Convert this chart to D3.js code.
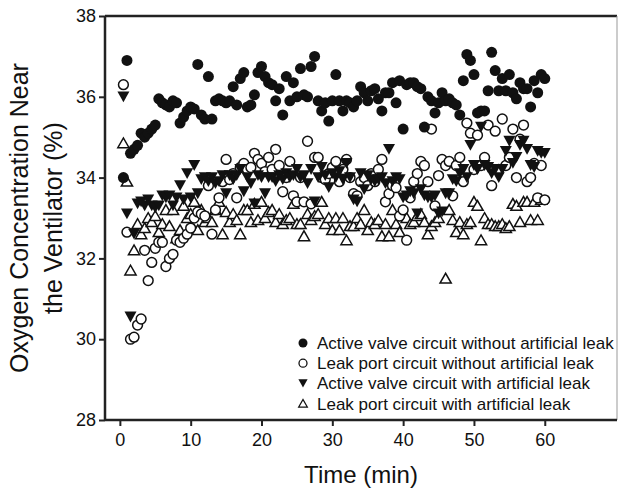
<!DOCTYPE html>
<html><head><meta charset="utf-8">
<script src="https://cdn.jsdelivr.net/npm/d3@7"></script>
<style>body{margin:0;background:#fff}svg{display:block}text{font-family:"Liberation Sans",Arial,sans-serif;fill:#111}</style>
</head><body>
<script>
const xTicks = [0,10,20,30,40,50,60];
const yTicks = [28,30,32,34,36,38];
const legendLabels = ["Active valve circuit without artificial leak","Leak port circuit without artificial leak","Active valve circuit with artificial leak","Leak port circuit with artificial leak"];
const activeNoLeak = [[0.5,34.0],[1,36.9],[1.5,34.6],[2,34.7],[2.5,34.8],[3,35.1],[3.5,35.0],[4,35.1],[4.5,35.2],[5,35.3],[5.5,35.95],[6,35.85],[6.5,35.8],[7,35.75],[7.5,35.9],[8,35.85],[8.5,35.35],[9,35.5],[9.5,35.65],[10,35.75],[10.5,35.7],[11,36.8],[11.5,35.55],[12,35.45],[12.5,36.5],[13,35.45],[13.5,35.9],[14,35.95],[14.5,35.9],[15,35.85],[15.5,35.9],[16,36.25],[16.5,35.8],[17,36.45],[17.5,36.6],[18,35.75],[18.5,35.8],[19,36.05],[19.5,36.6],[20,36.75],[20.5,36.5],[21,36.35],[21.5,36.3],[22,35.9],[22.5,36.2],[23,35.55],[23.5,36.5],[24,35.9],[24.5,36.35],[25,36.0],[25.5,36.7],[26,36.05],[26.5,36.0],[27,36.75],[27.5,37.0],[28,35.9],[28.5,35.65],[29,35.85],[29.5,35.4],[30,35.9],[30.5,36.55],[31,35.9],[31.5,35.65],[32,35.9],[32.5,35.85],[33,35.75],[33.5,35.9],[34,36.25],[34.5,36.1],[35,35.9],[35.5,36.15],[36,36.2],[36.5,35.95],[37,35.65],[37.5,36.1],[38,36.1],[38.5,36.35],[39,35.85],[39.5,36.4],[40,35.2],[40.5,36.3],[41,36.35],[41.5,36.35],[42,36.25],[42.5,36.2],[43,35.25],[43.5,36.0],[44,35.9],[44.5,35.6],[45,35.85],[45.5,36.1],[46,35.9],[46.5,35.95],[47,35.85],[47.5,35.8],[48,35.55],[48.5,36.4],[49,37.05],[49.5,36.9],[50,36.55],[50.5,35.6],[51,35.65],[51.5,35.65],[52,36.15],[52.5,37.1],[53,36.65],[53.5,36.15],[54,36.45],[54.5,36.15],[55,36.55],[55.5,36.1],[56,35.95],[56.5,36.35],[57,36.2],[57.5,36.2],[58,35.75],[58.5,36.4],[59,36.1],[59.5,36.55],[60,36.45]];
const leakNoLeak = [[0.5,36.3],[1,32.65],[1.5,30.0],[2,30.05],[2.5,30.35],[3,30.5],[3.5,32.2],[4,31.45],[4.5,31.9],[5,32.25],[5.5,32.4],[6,32.4],[6.5,31.8],[7,32.0],[7.5,32.1],[8,32.45],[8.5,32.4],[9,32.5],[9.5,32.6],[10,32.75],[10.5,33.0],[11,33.15],[11.5,33.1],[12,33.05],[12.5,33.8],[13,32.6],[13.5,33.2],[14,33.5],[14.5,33.9],[15,34.45],[15.5,33.95],[16,34.1],[16.5,33.5],[17,34.25],[17.5,34.35],[18,34.2],[18.5,34.25],[19,34.6],[19.5,34.45],[20,34.35],[20.5,34.15],[21,34.5],[21.5,34.2],[22,34.7],[22.5,34.3],[23,33.65],[23.5,34.0],[24,34.4],[24.5,33.55],[25,33.4],[25.5,34.0],[26,33.4],[26.5,34.9],[27,33.35],[27.5,34.5],[28,34.5],[28.5,34.0],[29,33.95],[29.5,34.1],[30,34.25],[30.5,34.4],[31,33.9],[31.5,34.2],[32,34.45],[32.5,34.0],[33,33.6],[33.5,33.55],[34,33.9],[34.5,34.0],[35,33.8],[35.5,34.1],[36,33.9],[36.5,34.2],[37,34.45],[37.5,33.4],[38,33.6],[38.5,33.8],[39,33.75],[39.5,33.05],[40,33.2],[40.5,32.45],[41,33.5],[41.5,33.9],[42,34.1],[42.5,34.4],[43,34.3],[43.5,33.9],[44,35.2],[44.5,33.3],[45,34.05],[45.5,34.45],[46,34.3],[46.5,34.4],[47,33.55],[47.5,34.3],[48,34.5],[48.5,33.9],[49,35.35],[49.5,35.1],[50,34.2],[50.5,35.05],[51,34.3],[51.5,34.5],[52,35.3],[52.5,33.8],[53,35.15],[53.5,34.2],[54,35.45],[54.5,34.3],[55,34.5],[55.5,35.2],[56,34.0],[56.5,34.95],[57,35.3],[57.5,33.9],[58,34.0],[58.5,34.35],[59,33.5],[59.5,34.3],[60,33.45]];
const activeLeak = [[0.5,36.0],[1,33.1],[1.5,30.55],[2,32.6],[2.5,33.35],[3,33.4],[3.5,33.3],[4,33.45],[4.5,33.3],[5,33.25],[5.5,33.3],[6,33.55],[6.5,33.5],[7,33.55],[7.5,33.3],[8,33.5],[8.5,33.8],[9,33.45],[9.5,34.1],[10,33.5],[10.5,34.3],[11,33.6],[11.5,33.95],[12,34.0],[12.5,33.9],[13,34.0],[13.5,33.85],[14,33.9],[14.5,34.05],[15,33.6],[15.5,34.05],[16,33.95],[16.5,34.05],[17,34.2],[17.5,33.65],[18,34.0],[18.5,33.85],[19,33.35],[19.5,34.05],[20,34.0],[20.5,33.6],[21,34.0],[21.5,34.0],[22,33.9],[22.5,34.05],[23,33.95],[23.5,34.1],[24,34.0],[24.5,34.05],[25,34.2],[25.5,34.0],[26,34.05],[26.5,33.85],[27,34.2],[27.5,33.4],[28,34.0],[28.5,34.25],[29,34.05],[29.5,33.75],[30,34.1],[30.5,34.0],[31,34.15],[31.5,33.95],[32,34.35],[32.5,34.0],[33,33.45],[33.5,33.4],[34,34.1],[34.5,33.7],[35,34.05],[35.5,33.95],[36,33.9],[36.5,33.95],[37,34.0],[37.5,33.85],[38,34.7],[38.5,33.9],[39,34.0],[39.5,33.95],[40,33.5],[40.5,33.55],[41,33.65],[41.5,33.6],[42,33.1],[42.5,33.7],[43,33.55],[43.5,33.5],[44,33.5],[44.5,33.55],[45,33.1],[45.5,33.15],[46,33.6],[46.5,33.6],[47,33.95],[47.5,33.9],[48,34.1],[48.5,34.2],[49,34.0],[49.5,34.8],[50,34.3],[50.5,34.2],[51,35.25],[51.5,34.3],[52,34.25],[52.5,34.1],[53,34.2],[53.5,34.0],[54,34.2],[54.5,34.65],[55,34.9],[55.5,34.35],[56,34.5],[56.5,34.8],[57,34.9],[57.5,34.7],[58,34.3],[58.5,34.25],[59,34.65],[59.5,34.6],[60,34.6]];
const leakLeak = [[0.5,34.85],[1,33.9],[1.5,31.7],[2,32.2],[2.5,32.85],[3,32.6],[3.5,32.75],[4,33.0],[4.5,32.9],[5,33.05],[5.5,32.65],[6,32.85],[6.5,33.2],[7,32.8],[7.5,33.2],[8,32.5],[8.5,32.7],[9,33.3],[9.5,33.0],[10,33.1],[10.5,33.4],[11,32.7],[11.5,33.2],[12,32.9],[12.5,33.0],[13,32.9],[13.5,33.2],[14,33.4],[14.5,32.6],[15,33.15],[15.5,32.9],[16,33.1],[16.5,32.95],[17,32.6],[17.5,33.2],[18,33.2],[18.5,32.9],[19,33.35],[19.5,32.95],[20,33.4],[20.5,33.0],[21,33.15],[21.5,33.2],[22,32.9],[22.5,33.1],[23,32.85],[23.5,32.95],[24,33.0],[24.5,33.35],[25,32.85],[25.5,32.85],[26,32.55],[26.5,33.1],[27,32.95],[27.5,33.05],[28,33.1],[28.5,33.4],[29,32.85],[29.5,33.0],[30,32.7],[30.5,33.0],[31,32.7],[31.5,33.0],[32,32.45],[32.5,32.8],[33,32.8],[33.5,33.0],[34,32.85],[34.5,33.2],[35,32.7],[35.5,32.9],[36,32.85],[36.5,32.95],[37,32.55],[37.5,32.85],[38,32.55],[38.5,33.2],[39,32.85],[39.5,32.65],[40,33.05],[40.5,33.0],[41,32.85],[41.5,32.9],[42,33.05],[42.5,33.1],[43,32.9],[43.5,32.6],[44,32.8],[44.5,32.9],[45,33.0],[46,31.5],[46.5,33.2],[47,32.95],[47.5,32.65],[48,32.9],[48.5,32.6],[49,32.85],[49.5,32.9],[50,33.4],[50.5,33.3],[51,32.45],[51.5,33.0],[52,32.85],[52.5,32.85],[53,32.8],[53.5,32.8],[54,32.85],[54.5,32.75],[55,32.8],[55.5,33.35],[56,33.3],[56.5,32.9],[57,33.4],[57.5,33.4],[58,32.95],[58.5,33.4],[59,32.95],[59.5,33.45]];

const W = 618, H = 492;
const svg = d3.select("body").append("svg").attr("width", W).attr("height", H);
const x = d3.scaleLinear().domain([-2.1, 70.2]).range([105, 617]);
const y = d3.scaleLinear().domain([28, 38]).range([420, 16]);

// frame
svg.append("line").attr("x1",105).attr("x2",617).attr("y1",16).attr("y2",16).attr("stroke","#222").attr("stroke-width",2.5);
svg.append("line").attr("x1",617).attr("x2",617).attr("y1",16).attr("y2",420).attr("stroke","#999").attr("stroke-width",1);

const yAxis = svg.append("g").attr("transform","translate(105,0)")
  .call(d3.axisLeft(y).tickValues(yTicks).tickFormat(d3.format("d")).tickSize(6).tickPadding(3));
const xAxis = svg.append("g").attr("transform","translate(0,420)")
  .call(d3.axisBottom(x).tickValues(xTicks).tickFormat(d3.format("d")).tickSize(6).tickPadding(7));
[yAxis, xAxis].forEach(g => {
  g.select(".domain").attr("stroke","#222").attr("stroke-width",2.5);
  g.selectAll(".tick line").attr("stroke","#222").attr("stroke-width",2);
  g.selectAll("text").style("font-family","'Liberation Sans', Arial, sans-serif").style("font-size","18px").attr("fill","#111");
});
yAxis.select(".domain").attr("d","M0,16V420");
xAxis.select(".domain").attr("d","M105,0H617");

function triPath(size, down) {
  const s = size;
  return down ? `M${-s},${-s*0.9}L${s},${-s*0.9}L0,${s*0.9}Z` : `M${-s},${s*0.8}L${s},${s*0.8}L0,${-s*0.95}Z`;
}
const plot = svg.append("g");
function drawSeries(data, type) {
  const g = plot.append("g");
  const sel = g.selectAll("path").data(data).join("path")
    .attr("transform", d => `translate(${x(d[0])},${y(d[1])})`);
  if (type === "filledCircle") sel.attr("d", d3.symbol().type(d3.symbolCircle).size(Math.PI*5.5*5.5)).attr("fill","#111");
  if (type === "openCircle") sel.attr("d", d3.symbol().type(d3.symbolCircle).size(Math.PI*4.9*4.9)).attr("fill","#fff").attr("stroke","#111").attr("stroke-width",1.5);
  if (type === "downTri") sel.attr("d", triPath(6, true)).attr("fill","#111");
  if (type === "upTri") sel.attr("d", triPath(5.6, false)).attr("fill","#fff").attr("stroke","#111").attr("stroke-width",1.5);
}
drawSeries(leakLeak, "upTri");
drawSeries(leakNoLeak, "openCircle");
drawSeries(activeLeak, "downTri");
drawSeries(activeNoLeak, "filledCircle");

// legend
const types = ["filledCircle","openCircle","downTri","upTri"];
const lg = svg.append("g");
legendLabels.forEach((lab, i) => {
  const cy = 343 + i*20.2;
  const t = types[i];
  const p = lg.append("path").attr("transform",`translate(303,${cy})`);
  if (t === "filledCircle") p.attr("d", d3.symbol().type(d3.symbolCircle).size(Math.PI*4.5*4.5)).attr("fill","#111");
  if (t === "openCircle") p.attr("d", d3.symbol().type(d3.symbolCircle).size(Math.PI*4*4)).attr("fill","#fff").attr("stroke","#111").attr("stroke-width",1.3);
  if (t === "downTri") p.attr("d", triPath(4.6, true)).attr("fill","#111");
  if (t === "upTri") p.attr("d", triPath(4.3, false)).attr("fill","#fff").attr("stroke","#111").attr("stroke-width",1.3);
  lg.append("text").attr("x",317).attr("y",cy+6).style("font-size","17px").text(lab);
});

// axis titles
svg.append("text").attr("x", 361).attr("y", 483).attr("text-anchor","middle").style("font-size","24px").text("Time (min)");
const yt = svg.append("text").attr("transform","translate(0,218) rotate(-90)").attr("text-anchor","middle").style("font-size","25px");
yt.append("tspan").attr("x",0).attr("y",28).text("Oxygen Concentration Near");
yt.append("tspan").attr("x",0).attr("y",62).text("the Ventilator (%)");
</script>
</body></html>
